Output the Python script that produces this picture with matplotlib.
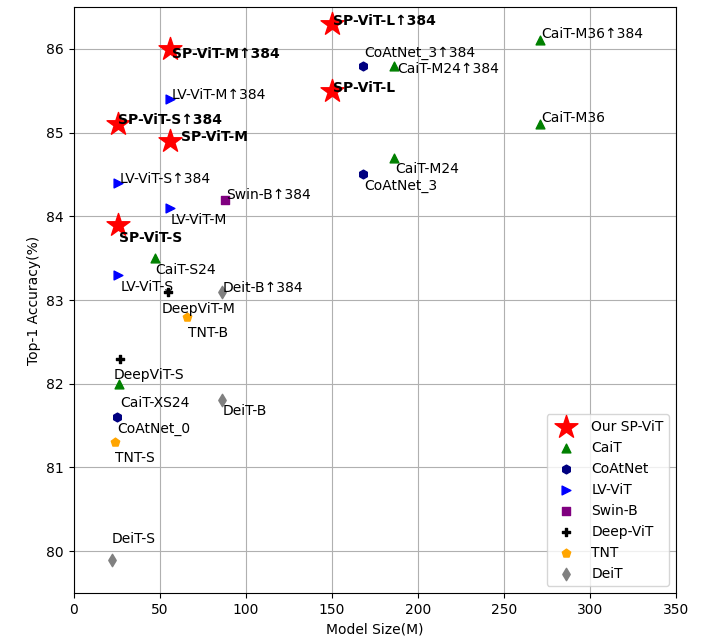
import matplotlib
matplotlib.use('Agg')
import matplotlib.pyplot as plt

# model size (M params) and top-1 accuracy (%) for each family
sp_names = ['SP-ViT-S', 'SP-ViT-M', 'SP-ViT-L', 'SP-ViT-S↑384', 'SP-ViT-M↑384', 'SP-ViT-L↑384']
sp_size = [26, 56, 150, 26, 56, 150]
sp_acc = [83.9, 84.9, 85.5, 85.1, 86.0, 86.3]

cait_names = ['CaiT-XS24', 'CaiT-S24', 'CaiT-M24', 'CaiT-M36', 'CaiT-M24↑384', 'CaiT-M36↑384']
cait_size = [26.6, 47, 186, 271, 186, 271]
cait_acc = [82.0, 83.5, 84.7, 85.1, 85.8, 86.1]

coat_names = ['CoAtNet_0', 'CoAtNet_3', 'CoAtNet_3↑384']
coat_size = [25, 168, 168]
coat_acc = [81.6, 84.5, 85.8]

lv_names = ['LV-ViT-S', 'LV-ViT-M', 'LV-ViT-S↑384', 'LV-ViT-M↑384']
lv_size = [26, 56, 26, 56]
lv_acc = [83.3, 84.1, 84.4, 85.4]

swin_names = ['Swin-B↑384']
swin_size = [88]
swin_acc = [84.2]

deepvit_names = ['DeepViT-S', 'DeepViT-M']
deepvit_size = [27, 55]
deepvit_acc = [82.3, 83.1]

tnt_names = ['TNT-S', 'TNT-B']
tnt_size = [23.8, 66]
tnt_acc = [81.3, 82.8]

deit_names = ['DeiT-S', 'DeiT-B', 'Deit-B↑384']
deit_size = [22, 86, 86]
deit_acc = [79.9, 81.8, 83.1]

# label offsets in pixels (dx, dy) from each marker
offsets = {
    'SP-ViT-S': (1, -13), 'SP-ViT-M': (11, 4), 'SP-ViT-L': (1, 3),
    'SP-ViT-S↑384': (0, 4), 'SP-ViT-M↑384': (2, -5), 'SP-ViT-L↑384': (1, 3),
    'CaiT-XS24': (1, -19), 'CaiT-S24': (1, -12), 'CaiT-M24': (1, -11),
    'CaiT-M36': (1, 6), 'CaiT-M24↑384': (3, -3), 'CaiT-M36↑384': (1, 6),
    'CoAtNet_0': (1, -12), 'CoAtNet_3': (1, -12), 'CoAtNet_3↑384': (1, 13),
    'LV-ViT-S': (2, -12), 'LV-ViT-M': (1, -12), 'LV-ViT-S↑384': (1, 4), 'LV-ViT-M↑384': (2, 4),
    'Swin-B↑384': (1, 5),
    'DeepViT-S': (-7, -16), 'DeepViT-M': (-7, -17),
    'TNT-S': (0, -16), 'TNT-B': (1, -16),
    'DeiT-S': (0, 21), 'DeiT-B': (1, -11), 'Deit-B↑384': (1, 4),
}

groups = [
    (sp_names, sp_size, sp_acc, '*', 'red', 300, 'Our SP-ViT', 'bold'),
    (cait_names, cait_size, cait_acc, '^', 'green', 40, 'CaiT', 'normal'),
    (coat_names, coat_size, coat_acc, 'h', 'navy', 40, 'CoAtNet', 'normal'),
    (lv_names, lv_size, lv_acc, '>', 'blue', 40, 'LV-ViT', 'normal'),
    (swin_names, swin_size, swin_acc, 's', 'purple', 40, 'Swin-B', 'normal'),
    (deepvit_names, deepvit_size, deepvit_acc, 'P', 'black', 40, 'Deep-ViT', 'normal'),
    (tnt_names, tnt_size, tnt_acc, 'p', 'orange', 40, 'TNT', 'normal'),
    (deit_names, deit_size, deit_acc, 'd', 'gray', 40, 'DeiT', 'normal'),
]

fig = plt.figure(figsize=(7.02, 6.37), dpi=100)
ax = fig.add_axes([0.105, 0.069, 0.858, 0.92])

for names, size, acc, mk, col, s, lab, weight in groups:
    ax.scatter(size, acc, marker=mk, color=col, s=s, label=lab, zorder=3)
    for n, x, y in zip(names, size, acc):
        ax.annotate(n, (x, y), xytext=offsets[n], textcoords='offset pixels',
                    ha='left', va='center', fontsize=10, fontweight=weight, zorder=4)

ax.set_xlim(0, 350)
ax.set_ylim(79.5, 86.5)
ax.set_xticks(range(0, 351, 50))
ax.set_yticks(range(80, 87))
ax.grid(True)
ax.set_axisbelow(True)
ax.set_xlabel('Model Size(M)')
ax.set_ylabel('Top-1 Accuracy(%)')
ax.legend(loc='lower right', fontsize=10)

fig.savefig('out.png', dpi=100)
